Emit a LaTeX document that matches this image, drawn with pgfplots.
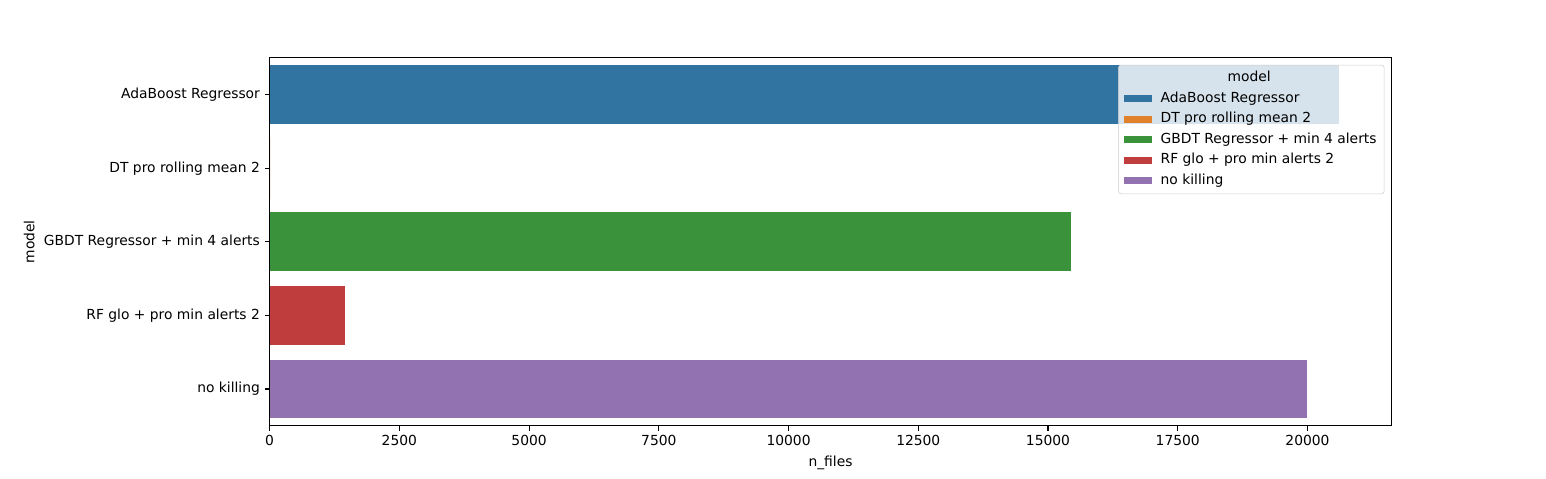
\documentclass[border=0pt]{standalone}
\usepackage{fontspec}
\setmainfont{DejaVu Sans}
\usepackage{pgfplots}
\pgfplotsset{compat=1.18}
\definecolor{cblue}{HTML}{3274A1}
\definecolor{corange}{HTML}{E1812C}
\definecolor{cgreen}{HTML}{3A923A}
\definecolor{cred}{HTML}{C03D3E}
\definecolor{cpurple}{HTML}{9372B2}
\pgfplotsset{
  barpatch/.style={legend image code/.code={\fill[##1,fill opacity=1,sharp corners] (0pt,-2.5pt) rectangle (20pt,2.5pt);}},
  hbar/.style={xbar, bar shift=0pt, bar width=0.8, fill=#1, draw=none, barpatch},
}
\newlength\legW
\begin{document}
\settowidth{\legW}{GBDT Regressor + min 4 alerts}
\begin{tikzpicture}
\useasboundingbox (-191.52pt,-38.16pt) rectangle (921.6pt,307.44pt);
\begin{axis}[
  scale only axis, width=810pt, height=265.68pt,
  xmin=0, xmax=21618, ymin=-0.5, ymax=4.5, y dir=reverse,
  ytick={0,1,2,3,4},
  yticklabels={AdaBoost Regressor, DT pro rolling mean 2, GBDT Regressor + min 4 alerts, RF glo + pro min alerts 2, no killing},
  xtick={0,2500,...,20000},
  scaled x ticks=false,
  /pgf/number format/1000 sep={},
  /pgf/number format/assume math mode=true,
  tick align=outside, major tick length=3.5pt, tick pos=left,
  every tick/.style={black, line width=0.8pt},
  axis line style={line width=0.8pt},
  xlabel={n\_files}, ylabel={model},
  legend cell align=left,
  legend style={at={(0.9938,0.9812)}, anchor=north east, draw=black!20,
    rounded corners=2pt, fill=white, fill opacity=0.8, text opacity=1,
    column sep=5pt, row sep=1.8pt, inner xsep=4pt, inner ysep=3pt,
    nodes={inner sep=1.5pt, text height=7.5pt, text depth=2.5pt}},
]
\addlegendimage{empty legend}
\addlegendentry{\hspace*{-14pt}\makebox[\legW][c]{model}}
\addplot[hbar=cblue] coordinates {(20600,0)};
\addlegendentry{AdaBoost Regressor}
\addplot[hbar=corange] coordinates {(0,1)};
\addlegendentry{DT pro rolling mean 2}
\addplot[hbar=cgreen] coordinates {(15450,2)};
\addlegendentry{GBDT Regressor + min 4 alerts}
\addplot[hbar=cred] coordinates {(1460,3)};
\addlegendentry{RF glo + pro min alerts 2}
\addplot[hbar=cpurple] coordinates {(20000,4)};
\addlegendentry{no killing}
\end{axis}
\end{tikzpicture}
\end{document}
